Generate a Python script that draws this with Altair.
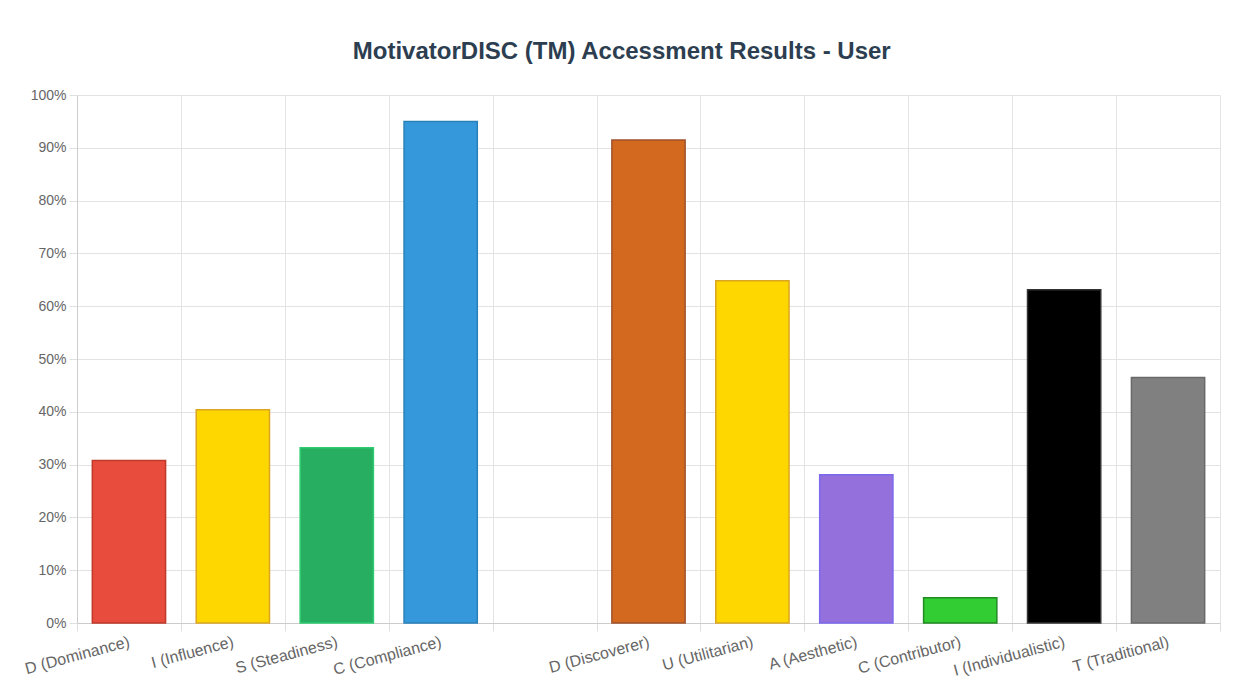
import altair as alt
import pandas as pd

categories = ["D (Dominance)", "I (Influence)", "S (Steadiness)", "C (Compliance)", " ",
              "D (Discoverer)", "U (Utilitarian)", "A (Aesthetic)", "C (Contributor)",
              "I (Individualistic)", "T (Traditional)"]
values = [30.8, 40.4, 33.2, 95.0, None, 91.5, 64.8, 28.1, 4.8, 63.1, 46.5]
fills = ["#e74c3c", "#ffd700", "#27ae60", "#3498db", "#ffffff",
         "#d2691e", "#ffd700", "#9370db", "#32cd32", "#000000", "#808080"]
strokes = ["#c0392b", "#daa520", "#2ecc71", "#2980b9", "#ffffff",
           "#a0522d", "#daa520", "#7b68ee", "#228b22", "#333333", "#696969"]

rows = [
    {"category": c, "value": v, "fill": f, "stroke": s}
    for c, v, f, s in zip(categories, values, fills, strokes)
    if v is not None
]
df = pd.DataFrame(rows)

font = "Liberation Sans"

chart = alt.Chart(df).mark_bar(strokeWidth=1.5, width=alt.RelativeBandSize(0.705)).encode(
    x=alt.X("category:N",
            scale=alt.Scale(domain=categories, paddingInner=0, paddingOuter=0),
            sort=categories,
            axis=alt.Axis(title=None, labelAngle=-15, labelAlign="right",
                          labelBaseline="middle", labelFontSize=16, labelColor="#666666",
                          labelFont=font, labelPadding=10,
                          tickBand="extent", grid=True, gridColor="#e3e3e3",
                          tickColor="#e0e0e0", tickSize=8, domainColor="#cccccc",
                          labelOverlap=False)),
    y=alt.Y("value:Q",
            scale=alt.Scale(domain=[0, 100]),
            axis=alt.Axis(title=None, values=list(range(0, 101, 10)),
                          labelExpr="datum.value + '%'", labelFontSize=14,
                          labelColor="#666666", labelFont=font, labelPadding=3,
                          gridColor="#e3e3e3", tickColor="#e0e0e0", tickSize=8,
                          domainColor="#cccccc")),
    fill=alt.Fill("fill:N", scale=None),
    stroke=alt.Stroke("stroke:N", scale=None),
).properties(
    width=1143,
    height=528,
    title=alt.TitleParams("MotivatorDISC (TM) Accessment Results - User",
                          fontSize=24, font=font, fontWeight="bold",
                          color="#2c3e50", offset=24, anchor="middle", frame="bounds"),
    autosize=alt.AutoSizeParams(type="none"),
    padding={"left": 69, "top": 87, "right": 12, "bottom": 57},
).configure_view(stroke=None)

chart.save("out.html", embed_options={"renderer": "svg", "actions": False})
